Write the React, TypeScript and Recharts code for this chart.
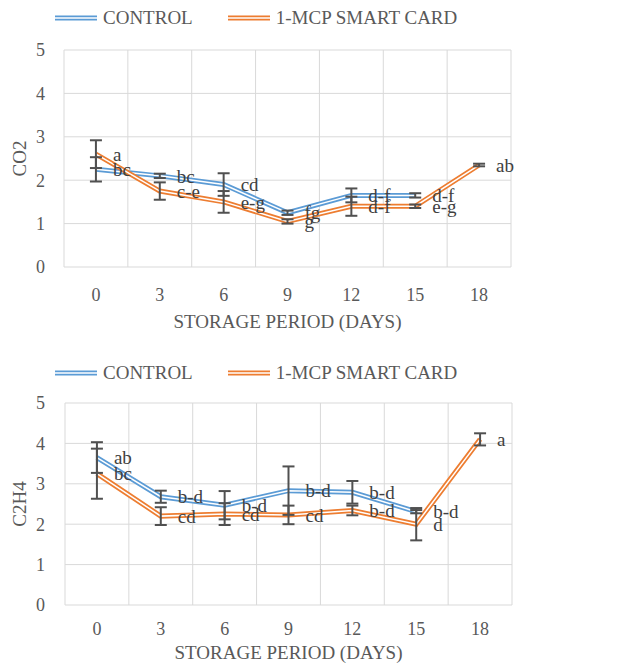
import React from "react";
import { LineChart, Line, XAxis, YAxis, CartesianGrid, ErrorBar, LabelList } from "recharts";

const DAYS = [0, 3, 6, 9, 12, 15, 18];
const Y_TICKS = [0, 1, 2, 3, 4, 5];
const SERIES_NAMES = ["CONTROL", "1-MCP SMART CARD"];
const SERIES_COLORS = ["#5B9BD5", "#ED7D31"];

// CO2
const CO2_CONTROL = [2.25, 2.1, 1.9, 1.25, 1.65, 1.65, null];
const CO2_CONTROL_ERR = [0.28, 0.05, 0.26, 0.05, 0.16, 0.05, null];
const CO2_CONTROL_TAGS = ["bc", "bc", "cd", "fg", "d-f", "d-f", ""];
const CO2_CARD = [2.6, 1.75, 1.5, 1.05, 1.4, 1.4, 2.35];
const CO2_CARD_ERR = [0.32, 0.2, 0.25, 0.05, 0.22, 0.04, 0.03];
const CO2_CARD_TAGS = ["a", "c-e", "e-g", "g", "d-f", "e-g", "ab"];

// C2H4
const C2H4_CONTROL = [3.65, 2.68, 2.47, 2.83, 2.79, 2.31, null];
const C2H4_CONTROL_ERR = [0.38, 0.15, 0.35, 0.6, 0.28, 0.04, null];
const C2H4_CONTROL_TAGS = ["ab", "b-d", "b-d", "b-d", "b-d", "b-d", ""];
const C2H4_CARD = [3.25, 2.2, 2.25, 2.23, 2.34, 2.0, 4.1];
const C2H4_CARD_ERR = [0.62, 0.22, 0.27, 0.23, 0.12, 0.4, 0.15];
const C2H4_CARD_TAGS = ["bc", "cd", "cd", "cd", "b-d", "d", "a"];

const FONT = '"Liberation Serif", "Times New Roman", serif';
const TEXT = "#595959";
const LABEL_TEXT = "#404040";
const GRID = "#D9D9D9";
const BAR = "#505050";

// excel draws category gridlines between the ticks
const BOUNDS = [...DAYS.map((d) => d - 1.5), 19.5];

type Row = Record<string, number | string | null>;

function buildRows(
  control: (number | null)[], controlErr: (number | null)[], controlTags: string[],
  card: number[], cardErr: number[], cardTags: string[]
): Row[] {
  return DAYS.map((day, i) => ({
    day,
    control: control[i], controlErr: controlErr[i], controlTag: controlTags[i],
    card: card[i], cardErr: cardErr[i], cardTag: cardTags[i],
  }));
}

const co2Rows = buildRows(CO2_CONTROL, CO2_CONTROL_ERR, CO2_CONTROL_TAGS, CO2_CARD, CO2_CARD_ERR, CO2_CARD_TAGS);
const c2h4Rows = buildRows(C2H4_CONTROL, C2H4_CONTROL_ERR, C2H4_CONTROL_TAGS, C2H4_CARD, C2H4_CARD_ERR, C2H4_CARD_TAGS);

function DoubleLineIcon({ color }: { color: string }) {
  return (
    <svg width={42} height={8} style={{ display: "block" }}>
      <line x1={0} y1={4} x2={42} y2={4} stroke={color} strokeWidth={5} />
      <line x1={0} y1={4} x2={42} y2={4} stroke="#fff" strokeWidth={1.5} />
    </svg>
  );
}

function TopLegend({ top }: { top: number }) {
  return (
    <div style={{ position: "absolute", top, left: 55, display: "flex", alignItems: "center", gap: 35 }}>
      {SERIES_NAMES.map((name, i) => (
        <div key={name} style={{ display: "flex", alignItems: "center", gap: 6 }}>
          <DoubleLineIcon color={SERIES_COLORS[i]} />
          <span style={{ fontFamily: FONT, fontSize: 19, color: TEXT, lineHeight: "22px" }}>{name}</span>
        </div>
      ))}
    </div>
  );
}

interface PanelProps {
  rows: Row[];
  yLabel: string;
  top: number;
  height: number;
  plotTop: number;
  axisHeight: number;
  yWidth: number;
  right: number;
  xTickMargin: number;
  titleOffset: number;
  legendTop: number;
}

function Panel(p: PanelProps) {
  const tick = { fill: TEXT, fontSize: 18, fontFamily: FONT };
  const tagStyle = { fill: LABEL_TEXT, fontSize: 19, fontFamily: FONT };
  return (
    <>
      <TopLegend top={p.legendTop} />
      <div style={{ position: "absolute", top: p.top, left: 0 }}>
        <LineChart width={619} height={p.height} data={p.rows}
          margin={{ top: p.plotTop, right: p.right, left: 0, bottom: 0 }}>
          <CartesianGrid stroke={GRID} verticalValues={BOUNDS} />
          <XAxis type="number" dataKey="day" domain={[-1.5, 19.5]} ticks={DAYS}
            height={p.axisHeight} axisLine={false} tickLine={false} tickSize={6}
            tickMargin={p.xTickMargin} tick={tick} interval={0}
            label={{ value: "STORAGE PERIOD (DAYS)", position: "insideBottom", offset: p.titleOffset,
              fill: TEXT, fontSize: 19, fontFamily: FONT }} />
          <YAxis domain={[0, 5]} ticks={Y_TICKS} width={p.yWidth} axisLine={false} tickLine={false}
            tickSize={6} tickMargin={p.yWidth - 51} tick={tick}
            label={{ value: p.yLabel, angle: -90, position: "insideLeft", offset: 19,
              fill: TEXT, fontSize: 19, fontFamily: FONT, style: { textAnchor: "middle" } }} />

          <Line dataKey="control" stroke={SERIES_COLORS[0]} strokeWidth={5} dot={false} activeDot={false} isAnimationActive={false} />
          <Line dataKey="control" stroke="#fff" strokeWidth={1.5} dot={false} activeDot={false} isAnimationActive={false} />
          <Line dataKey="card" stroke={SERIES_COLORS[1]} strokeWidth={5} dot={false} activeDot={false} isAnimationActive={false} />
          <Line dataKey="card" stroke="#fff" strokeWidth={1.5} dot={false} activeDot={false} isAnimationActive={false} />

          {/* error bars and letters sit on top of both series */}
          <Line dataKey="control" stroke="none" dot={false} activeDot={false} isAnimationActive={false}>
            <ErrorBar dataKey="controlErr" width={6} strokeWidth={2} stroke={BAR} direction="y" isAnimationActive={false} />
            <LabelList dataKey="controlTag" position="right" offset={17} {...tagStyle} />
          </Line>
          <Line dataKey="card" stroke="none" dot={false} activeDot={false} isAnimationActive={false}>
            <ErrorBar dataKey="cardErr" width={6} strokeWidth={2} stroke={BAR} direction="y" isAnimationActive={false} />
            <LabelList dataKey="cardTag" position="right" offset={17} {...tagStyle} />
          </Line>
        </LineChart>
      </div>
    </>
  );
}

export default function App() {
  return (
    <div style={{ position: "absolute", top: 0, left: 0, width: 619, height: 666, background: "#fff", fontFamily: FONT }}>
      <Panel rows={co2Rows} yLabel="CO2" top={0} height={340} plotTop={50} axisHeight={73}
        yWidth={64} right={108} xTickMargin={15} titleOffset={12} legendTop={7} />
      <Panel rows={c2h4Rows} yLabel="C2H4" top={340} height={326} plotTop={63} axisHeight={61}
        yWidth={65} right={107} xTickMargin={11} titleOffset={7} legendTop={362} />
    </div>
  );
}
